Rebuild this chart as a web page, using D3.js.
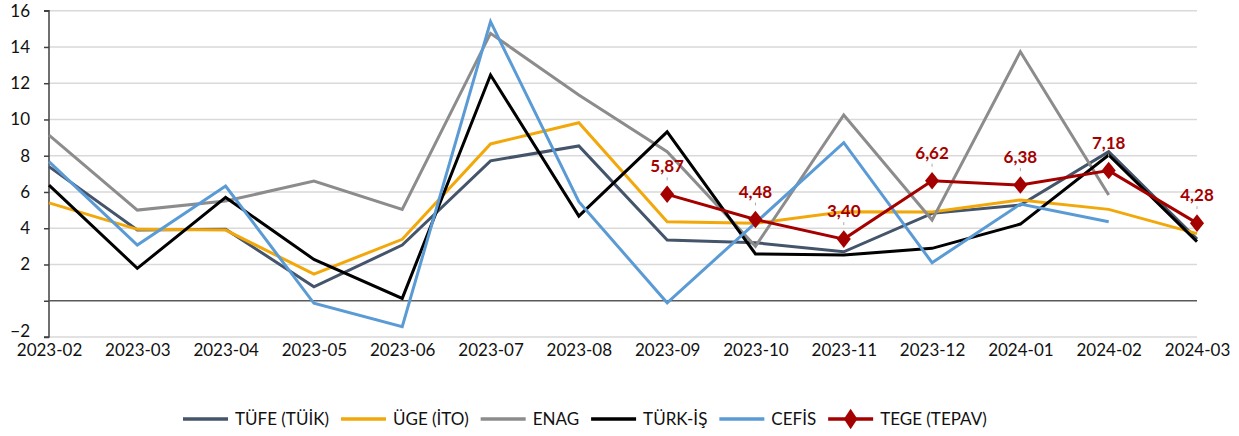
<!DOCTYPE html>
<html><head><meta charset="utf-8">
<script src="https://cdn.jsdelivr.net/npm/d3@7"></script>
<style>body{margin:0;background:#fff}svg{display:block}</style>
</head><body><svg id="c" width="1239" height="436"></svg>
<script>
const months = ["2023-02","2023-03","2023-04","2023-05","2023-06","2023-07","2023-08","2023-09","2023-10","2023-11","2023-12","2024-01","2024-02","2024-03"];
const tufe  = [7.4,3.9,3.95,0.77,3.07,7.72,8.54,3.35,3.2,2.7,4.82,5.28,8.22,3.4];
const uge   = [5.4,3.94,3.9,1.47,3.39,8.65,9.82,4.36,4.27,4.91,4.9,5.56,5.04,3.7];
const enag  = [9.14,5.0,5.5,6.6,5.04,14.75,11.35,8.22,3.0,10.25,4.45,13.74,5.83,null];
const turkis= [6.38,1.79,5.7,2.28,0.13,12.45,4.67,9.32,2.58,2.52,2.89,4.23,8.04,3.26];
const cefis = [7.67,3.07,6.33,-0.14,-1.43,15.4,5.46,-0.11,4.3,8.72,2.1,5.33,4.36,null];
const tege  = [null,null,null,null,null,null,null,5.87,4.48,3.40,6.62,6.38,7.18,4.28];
const yTicks = [-2,0,2,4,6,8,10,12,14,16];
const seriesNames = ["TÜFE (TÜİK)","ÜGE (İTO)","ENAG","TÜRK-İŞ","CEFİS","TEGE (TEPAV)"];
const seriesColors = ["#44546A","#F2A80A","#8C8C8C","#000000","#5B9BD5","#A50000"];
const seriesData = [tufe,uge,enag,turkis,cefis,tege];

const svg = d3.select("#c");
const font = "Lato, 'Open Sans', sans-serif";
const x = d3.scalePoint().domain(months).range([49,1197]);
const y = d3.scaleLinear().domain([-2,16]).range([337,10.7]);

// gridlines
svg.append("g").selectAll("line").data(yTicks.filter(d=>d!==0)).join("line")
  .attr("x1",49).attr("x2",1197).attr("y1",d=>y(d)).attr("y2",d=>y(d))
  .attr("stroke","#D9D9D9").attr("stroke-width",1.5);

// y axis
const yAxis = d3.axisLeft(y).tickValues(yTicks).tickSize(5).tickPadding(14)
  .tickFormat(d=>d===0?"":d3.format("d")(d));
const ga = svg.append("g").attr("transform","translate(49,0)").call(yAxis);
ga.select(".domain").attr("stroke","#404040").attr("stroke-width",1.5).attr("d","M-5,"+y(16)+"H0V"+y(-2)+"H-5");
ga.selectAll(".tick line").attr("stroke","#404040").attr("stroke-width",1.5);
ga.selectAll(".tick text").attr("font-family",font).attr("font-size",17).attr("fill","#111")
  .attr("dy",d=>d===-2?"-0.05em":"0.32em");

// zero line
svg.append("line").attr("x1",49).attr("x2",1197).attr("y1",y(0)).attr("y2",y(0))
  .attr("stroke","#595959").attr("stroke-width",1.5);

// x labels
const xAxis = d3.axisBottom(x).tickSize(0).tickPadding(0);
const gx = svg.append("g").attr("transform","translate(0,"+(y(-2)+3)+")").call(xAxis);
gx.select(".domain").remove();
gx.selectAll(".tick text").attr("font-family",font).attr("font-size",17).attr("fill","#111").attr("dy","0.95em");

// lines
const line = d3.line().defined(d=>d.v!==null).x(d=>x(d.m)).y(d=>y(d.v));
seriesData.forEach((arr,i)=>{
  const pts = months.map((m,j)=>({m,v:arr[j]}));
  svg.append("path").datum(pts).attr("d",line).attr("fill","none")
    .attr("stroke",seriesColors[i]).attr("stroke-width",3).attr("stroke-linejoin","miter");
});

// TEGE markers and labels
const tp = months.map((m,j)=>({m,v:tege[j]})).filter(d=>d.v!==null);
const diamond = d3.symbol().type(d3.symbolDiamond).size(110);
svg.append("g").selectAll("path").data(tp).join("path")
  .attr("d",diamond).attr("transform",d=>`translate(${x(d.m)},${y(d.v)}) scale(1.25,0.9)`)
  .attr("fill","#A50000");
svg.append("g").selectAll("line").data(tp).join("line")
  .attr("x1",d=>x(d.m)).attr("x2",d=>x(d.m)).attr("y1",d=>y(d.v)-17).attr("y2",d=>y(d.v)-14)
  .attr("stroke","#aaa").attr("stroke-width",1);
svg.append("g").selectAll("text").data(tp).join("text")
  .attr("x",d=>x(d.m)).attr("y",d=>y(d.v)-22).attr("text-anchor","middle")
  .attr("font-family",font).attr("font-weight","bold").attr("font-size",17).attr("fill","#A50000")
  .text(d=>d.v.toFixed(2).replace(".",","));

// legend
const lg = svg.append("g");
let lx = 183; const ly = 419;
seriesNames.forEach((n,i)=>{
  const g = lg.append("g");
  g.append("line").attr("x1",lx).attr("x2",lx+45).attr("y1",ly).attr("y2",ly)
    .attr("stroke",seriesColors[i]).attr("stroke-width",3.5);
  if(i===5){
    g.append("path").attr("d",diamond).attr("transform",`translate(${lx+22.5},${ly}) scale(1.2,1.05)`).attr("fill",seriesColors[i]);
  }
  const t = g.append("text").attr("x",lx+52).attr("y",ly).attr("dy","0.35em")
    .attr("font-family",font).attr("font-size",17).attr("fill","#111").text(n);
  lx += 52 + t.node().getComputedTextLength() + 12;
});
</script></body></html>
